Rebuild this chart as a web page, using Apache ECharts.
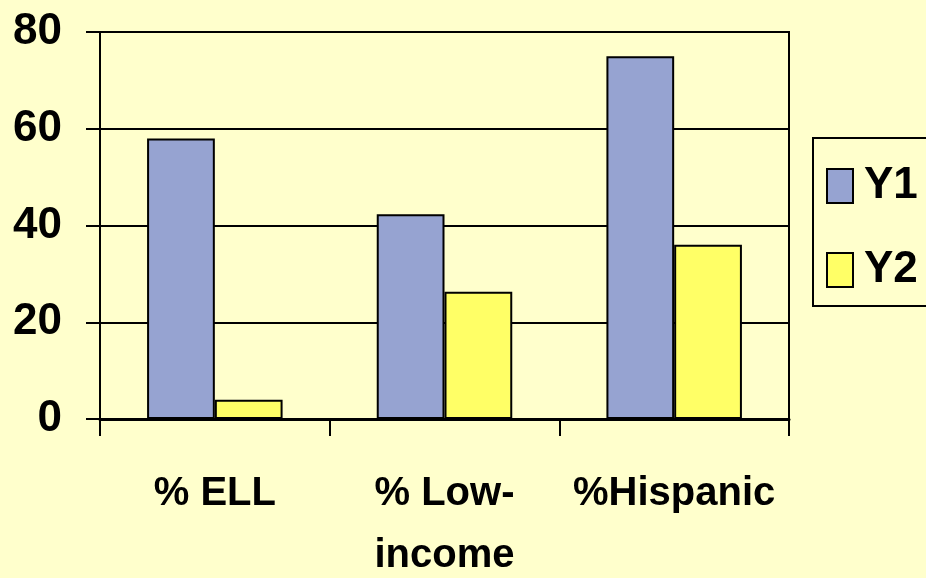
<!DOCTYPE html>
<html>
<head>
<meta charset="utf-8">
<script src="https://cdn.jsdelivr.net/npm/echarts@6/dist/echarts.min.js"></script>
<style>
  html, body { margin: 0; padding: 0; background: #FFFFCC; }
  #chart { width: 926px; height: 578px; }
</style>
</head>
<body>
<div id="chart"></div>
<script>
// Category names and the two series, one value per category
const categories = ['% ELL', '% Low-\nincome', '%Hispanic'];
const y1Values = [58, 42.3, 75];
const y2Values = [4, 26.3, 36];
const seriesNames = ['Y1', 'Y2'];
const yTicks = { min: 0, max: 80, interval: 20 };

const FONT = '"Liberation Sans", Arial, sans-serif';

const chart = echarts.init(document.getElementById('chart'), null, { renderer: 'canvas' });

const barStyle = (fill) => ({ color: fill, borderColor: '#000', borderWidth: 2 });

chart.setOption({
  backgroundColor: '#FFFFCC',
  animation: false,
  grid: {
    left: 100, top: 32, right: 137, bottom: 159,
    outerBoundsMode: 'none',
    containLabel: false,
    show: true, borderColor: '#000', borderWidth: 2, backgroundColor: 'transparent'
  },
  legend: {
    orient: 'vertical',
    left: 813, top: 138,
    padding: [26, 80, 14, 13],
    itemWidth: 26, itemHeight: 34, itemGap: 40,
    borderColor: '#000', borderWidth: 2,
    icon: 'rect',
    textStyle: { fontFamily: FONT, fontWeight: 'bold', fontSize: 44, color: '#000', padding: [0, 0, 0, 6] },
    data: seriesNames
  },
  xAxis: {
    type: 'category',
    data: categories,
    axisLine: { lineStyle: { color: '#000', width: 3 } },
    axisTick: { show: true, length: 17, lineStyle: { color: '#000', width: 2 } },
    axisLabel: {
      fontFamily: FONT, fontWeight: 'bold', fontSize: 40, color: '#000',
      lineHeight: 62, margin: 44, interval: 0
    }
  },
  yAxis: {
    type: 'value',
    min: yTicks.min, max: yTicks.max, interval: yTicks.interval,
    axisLine: { show: true, lineStyle: { color: '#000', width: 2 } },
    axisTick: { show: true, length: 14, lineStyle: { color: '#000', width: 2 } },
    splitLine: { lineStyle: { color: '#000', width: 2 } },
    axisLabel: { fontFamily: FONT, fontWeight: 'bold', fontSize: 44, color: '#000', margin: 38 }
  },
  series: [
    {
      name: seriesNames[0], type: 'bar', data: y1Values,
      barGap: '0%', barCategoryGap: '41%',
      itemStyle: barStyle('#96A3D1')
    },
    {
      name: seriesNames[1], type: 'bar', data: y2Values,
      barGap: '0%', barCategoryGap: '41%',
      itemStyle: barStyle('#FFFF66')
    }
  ]
});
</script>
</body>
</html>
